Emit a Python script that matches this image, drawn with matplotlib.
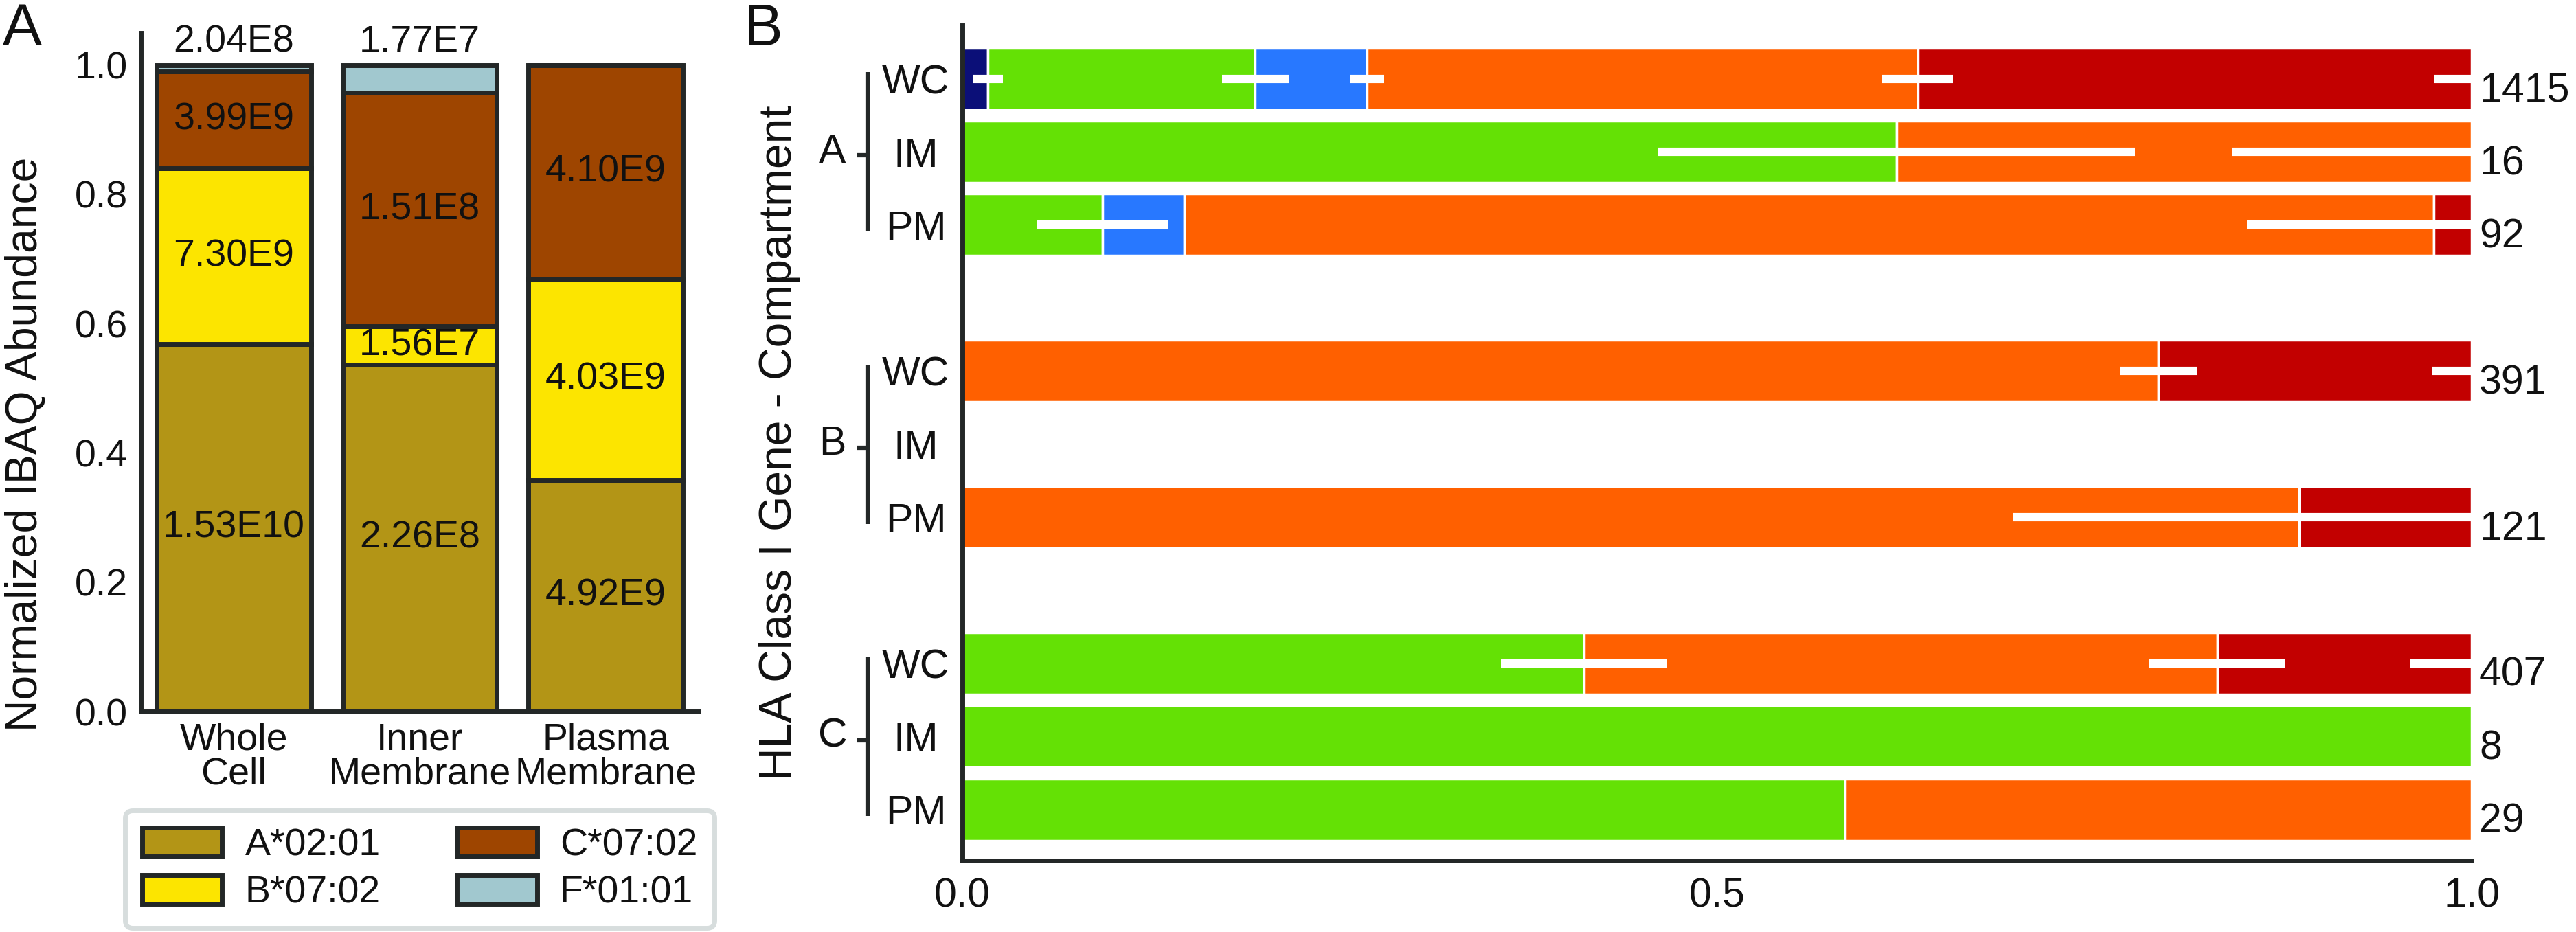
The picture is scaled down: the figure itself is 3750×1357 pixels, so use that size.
import matplotlib
matplotlib.use('Agg')
import matplotlib.pyplot as plt
import numpy as np
from matplotlib.patches import Patch
from matplotlib.transforms import blended_transform_factory

plt.rcParams['font.family'] = ['Liberation Sans', 'DejaVu Sans']

# ---------------- Panel A data ----------------
compartments = ['Whole\nCell', 'Inner\nMembrane', 'Plasma\nMembrane']
alleles = ['A*02:01', 'B*07:02', 'C*07:02', 'F*01:01']
allele_colors = ['#B39516', '#FCE500', '#9E4500', '#A1C8CF']
frac_A = [0.568, 0.536, 0.358]
frac_B = [0.272, 0.060, 0.311]
frac_C = [0.150, 0.361, 0.331]
frac_F = [0.010, 0.043, 0.000]
ibaq_A = ['1.53E10', '2.26E8', '4.92E9']
ibaq_B = ['7.30E9', '1.56E7', '4.03E9']
ibaq_C = ['3.99E9', '1.51E8', '4.10E9']
ibaq_F = ['2.04E8', '1.77E7', '']

# ---------------- Panel B data ----------------
genes = ['A', 'B', 'C']
comp_short = ['WC', 'IM', 'PM']
row_slots = [0, 1, 2, 4, 5, 6, 8, 9, 10]   # rows: A-WC, A-IM, A-PM, B-WC, B-IM, B-PM, C-WC, C-IM, C-PM
cat_colors = ['#0B0F78', '#64E105', '#2878FF', '#FF6000', '#C20000']
navy = [0.017, 0, 0, 0, 0, 0, 0, 0, 0]
green = [0.177, 0.619, 0.093, 0, 0, 0, 0.412, 1.0, 0.585]
blue = [0.074, 0, 0.054, 0, 0, 0, 0, 0, 0]
orange = [0.365, 0.381, 0.828, 0.7925, 0, 0.8858, 0.4195, 0, 0.415]
red = [0.367, 0, 0.025, 0.2075, 0, 0.1142, 0.1685, 0, 0]
navy_err = [0.010, 0, 0, 0, 0, 0, 0, 0, 0]
green_err = [0.022, 0.158, 0.0435, 0, 0, 0, 0.055, 0, 0]
blue_err = [0.0115, 0, 0, 0, 0, 0, 0, 0, 0]
orange_err = [0.0235, 0.159, 0.124, 0.0255, 0, 0.19, 0.045, 0, 0]
red_err = [0.025, 0, 0.056, 0.026, 0, 0, 0.041, 0, 0]
counts = ['1415', '16', '92', '391', '', '121', '407', '8', '29']

DARK = '#232727'
TXT = '#111111'

fig = plt.figure(figsize=(15, 5.428), dpi=250)

# ================= Panel A =================
axA = fig.add_axes([0.0547, 0.2365, 0.2165, 0.7284])
x = np.arange(len(compartments))
bottom = np.zeros(len(compartments))
fracs = [frac_A, frac_B, frac_C, frac_F]
labels = [ibaq_A, ibaq_B, ibaq_C, ibaq_F]
for k, (fr, col) in enumerate(zip(fracs, allele_colors)):
    fr = np.array(fr)
    axA.bar(x, fr, bottom=bottom, width=0.83, color=col, edgecolor=DARK,
            linewidth=2.0, zorder=2)
    if k < 3:
        for i in range(len(x)):
            axA.text(x[i], bottom[i] + fr[i] / 2, labels[k][i], ha='center',
                     va='center', fontsize=16, color=TXT, zorder=3)
    bottom = bottom + fr
for i in range(len(x)):
    if ibaq_F[i]:
        axA.text(x[i], 1.035, ibaq_F[i], ha='center', va='center',
                 fontsize=16, color=TXT, clip_on=False)
axA.set_xlim(-0.5, 2.5)
axA.set_ylim(0, 1.05)
axA.set_yticks([0.0, 0.2, 0.4, 0.6, 0.8, 1.0])
axA.set_yticklabels(['0.0', '0.2', '0.4', '0.6', '0.8', '1.0'])
axA.set_xticks(x)
axA.set_xticklabels(compartments, linespacing=0.95)
axA.tick_params(axis='y', length=0, pad=5.5, labelsize=16, labelcolor=TXT)
axA.tick_params(axis='x', length=0, pad=4.5, labelsize=16, labelcolor=TXT)
for s in ['top', 'right']:
    axA.spines[s].set_visible(False)
for s in ['left', 'bottom']:
    axA.spines[s].set_color(DARK)
    axA.spines[s].set_linewidth(2.0)
axA.spines['left'].set_zorder(1)

fig.text(0.0099, 0.5232, 'Normalized IBAQ Abundance', rotation=90,
         ha='center', va='center', fontsize=18.5, color=TXT)

handles = [Patch(facecolor=c, edgecolor=DARK, linewidth=2.0) for c in allele_colors]
leg = fig.legend(handles, alleles, loc='center', ncol=2,
                 bbox_to_anchor=(0.1629, 0.0674), bbox_transform=fig.transFigure,
                 fontsize=16, handlelength=2.1, handleheight=0.8,
                 handletextpad=0.6, columnspacing=2.0, labelspacing=0.3,
                 borderpad=0.45, frameon=True, fancybox=True)
leg.get_frame().set_edgecolor('#CDD5D5')
leg.get_frame().set_linewidth(2.0)
for t in leg.get_texts():
    t.set_color(TXT)

# ================= Panel B =================
axB = fig.add_axes([0.3736, 0.0766, 0.5859, 0.8961])
cats = [navy, green, blue, orange, red]
errs = [navy_err, green_err, blue_err, orange_err, red_err]
left = np.zeros(len(row_slots))
slots = np.array(row_slots, dtype=float)
ends = []
for vals, col in zip(cats, cat_colors):
    vals = np.array(vals, dtype=float)
    m = vals > 0
    axB.barh(slots[m], vals[m], left=left[m], height=0.846, color=col,
             edgecolor='white', linewidth=1.0, zorder=2)
    ends.append(left + vals)
    left = left + vals
for e_pos, e_val in zip(ends, errs):
    e_val = np.array(e_val, dtype=float)
    m = e_val > 0
    if m.any():
        axB.errorbar(e_pos[m], slots[m], xerr=e_val[m], fmt='none',
                     ecolor='white', elinewidth=3.5, capsize=0, zorder=3)
for s, c in zip(slots, counts):
    if c:
        axB.text(1.005, s + 0.31, c, ha='left', va='baseline', fontsize=17,
                 color=TXT, clip_on=False)

axB.set_xlim(0, 1)
axB.set_ylim(10.70, -0.73)
axB.set_xticks([0.0, 0.5, 1.0])
axB.set_xticklabels(['0.0', '0.5', '1.0'])
axB.set_yticks(slots)
axB.set_yticklabels(comp_short * 3)
for lab in axB.get_yticklabels():
    lab.set_horizontalalignment('center')
axB.tick_params(axis='y', length=0, pad=19.5, labelsize=17, labelcolor=TXT)
axB.tick_params(axis='x', length=0, pad=7, labelsize=17, labelcolor=TXT)
for s in ['top', 'right']:
    axB.spines[s].set_visible(False)
for s in ['left', 'bottom']:
    axB.spines[s].set_color(DARK)
    axB.spines[s].set_linewidth(2.0)

# group brackets
tr = blended_transform_factory(fig.transFigure, axB.transData)
for g, start in zip(genes, [0, 4, 8]):
    axB.plot([0.3367, 0.3367], [start - 0.09, start + 2.09], color=DARK,
             lw=1.8, transform=tr, clip_on=False, solid_capstyle='butt')
    axB.plot([0.3325, 0.3367], [start + 1.05, start + 1.05], color=DARK,
             lw=1.8, transform=tr, clip_on=False, solid_capstyle='butt')
    axB.text(0.3232, start + 1.0, g, ha='center', va='center', fontsize=17,
             color=TXT, transform=tr)

fig.text(0.3027, 0.5247, 'HLA Class I Gene - Compartment', rotation=90,
         ha='center', va='center', fontsize=19, color=TXT)

# panel letters
fig.text(0.001, 0.952, 'A', fontsize=24.5, va='baseline', ha='left', color=TXT)
fig.text(0.2888, 0.9514, 'B', fontsize=24.5, va='baseline', ha='left', color=TXT)

fig.savefig('out.png', dpi=250, facecolor='white')
